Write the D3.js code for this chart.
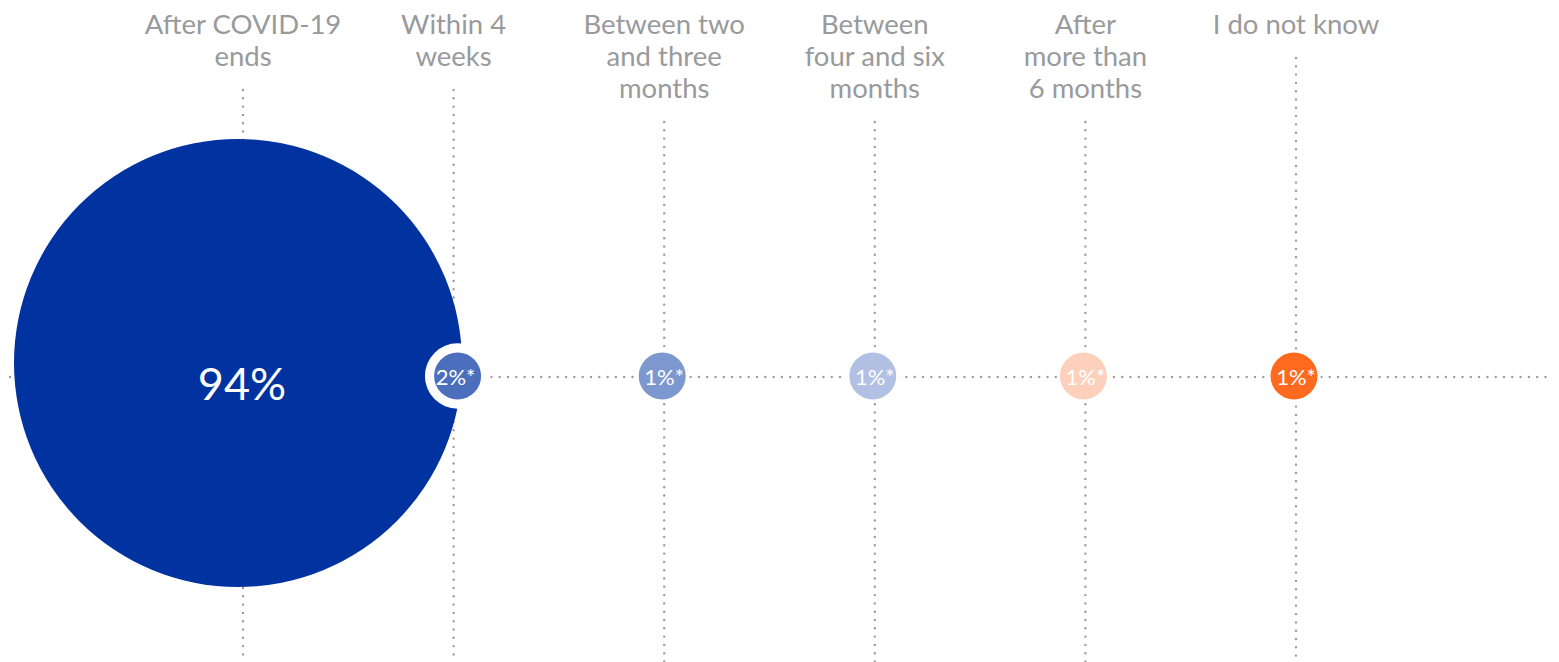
<!DOCTYPE html>
<html><head><meta charset="utf-8">
<script src="https://cdn.jsdelivr.net/npm/d3@7"></script>
<style>body{margin:0;background:#fff}</style>
</head><body>
<svg id="c" width="1559" height="662"></svg>
<script>
const categories = ["After COVID-19 ends","Within 4 weeks","Between two and three months","Between four and six months","After more than 6 months","I do not know"];
const labelLines = [["After COVID-19","ends"],["Within 4","weeks"],["Between two","and three","months"],["Between","four and six","months"],["After","more than","6 months"],["I do not know"]];
const values = [94, 2, 1, 1, 1, 1];
const valueLabels = ["94%","2%*","1%*","1%*","1%*","1%*"];
const colors = ["#0033a0","#4b6fbd","#7d97cf","#b2c1e3","#fdd0bb","#ff6a1f"];

const svg = d3.select("#c");
const W = 1559, H = 662;
const x = d3.scalePoint().domain(categories).range([243, 1296]);
const r = d3.scaleSqrt().domain([0, 94]).range([0, 224]);
const lineY = 377;
const gray = "#9b9b9b";
const font = "Lato, 'Open Sans', sans-serif";

// vertical dotted lines
categories.forEach((c, i) => {
  const top = 20 + labelLines[i].length * 32 + 6;
  svg.append("line").attr("x1", x(c)).attr("x2", x(c)).attr("y1", top).attr("y2", H)
    .attr("stroke", gray).attr("stroke-width", 2.4).attr("stroke-linecap", "round")
    .attr("stroke-dasharray", "0,8.3");
});
// horizontal dotted line
svg.append("line").attr("x1", 10).attr("x2", 1552).attr("y1", lineY).attr("y2", lineY)
  .attr("stroke", gray).attr("stroke-width", 2.4).attr("stroke-linecap", "round")
  .attr("stroke-dasharray", "0,8.3");

// labels
categories.forEach((c, i) => {
  const t = svg.append("text").attr("x", x(c)).attr("text-anchor", "middle")
    .attr("font-family", font).attr("font-size", 27.5).attr("fill", "#999a9c");
  labelLines[i].forEach((l, j) => {
    t.append("tspan").attr("x", x(c)).attr("y", 34 + j * 32).text(l);
  });
});

// bubbles
const smallR = 23.5;
categories.forEach((c, i) => {
  const v = values[i];
  const big = v > 50;
  const cx = big ? x(c) - 5 : x(c) + (i === 1 ? 4 : -2);
  const cy = big ? 363 : lineY - 1;
  const outer = r(v);
  const inner = big ? outer : smallR;
  if (!big) {
    svg.append("circle").attr("cx", cx).attr("cy", cy).attr("r", Math.max(outer, inner + 3)).attr("fill", "#fff");
  }
  svg.append("circle").attr("cx", cx).attr("cy", cy).attr("r", inner).attr("fill", colors[i]);
  svg.append("text").attr("x", big ? x(c) - 1 : x(c) + (i === 1 ? 2 : 0)).attr("y", big ? 400 : lineY + 8)
    .attr("text-anchor", "middle")
    .attr("font-family", font).attr("font-size", big ? 45 : 22).attr("fill", "#fff")
    .text(valueLabels[i]);
});
</script>
</body></html>
